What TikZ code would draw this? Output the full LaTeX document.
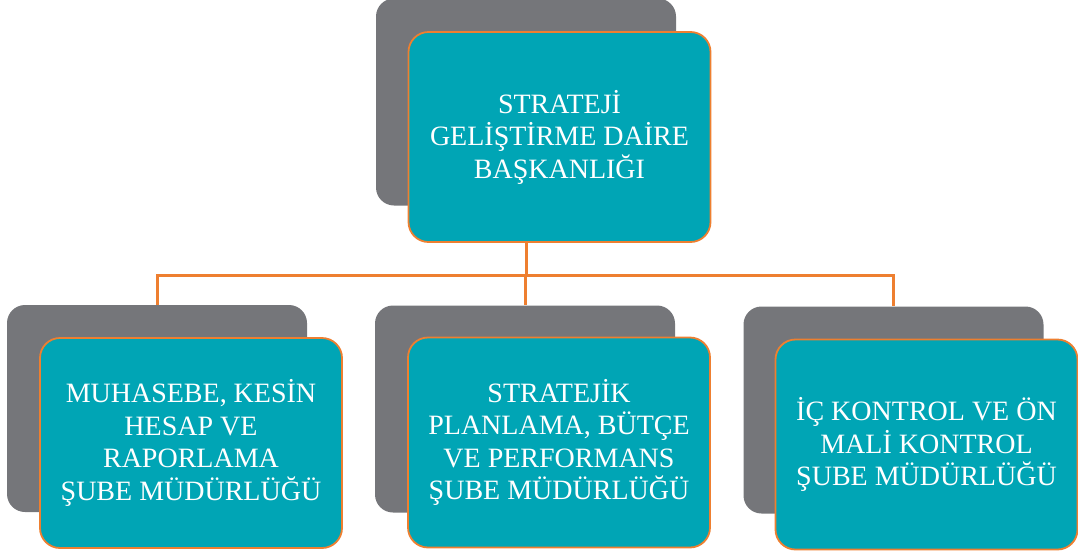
\documentclass[tikz,border=0pt]{standalone}
\usepackage{fontspec}
\setmainfont{Liberation Serif}
\definecolor{tealbox}{HTML}{00A5B5}
\definecolor{shadowgray}{HTML}{75767A}
\definecolor{orangeline}{HTML}{EE7F30}
\tikzset{
  backbox/.style={fill=shadowgray, rounded corners=18pt, minimum width=300pt, minimum height=207pt, inner sep=0pt, anchor=center},
  frontbox/.style={fill=tealbox, draw=orangeline, line width=1.8pt, rounded corners=20pt, minimum width=302pt, minimum height=210pt, inner sep=0pt, anchor=center, text=white, align=center, font=\fontsize{28}{32.5}\selectfont},
  conn/.style={draw=orangeline, line width=3pt}
}
\begin{document}
\begin{tikzpicture}[x=1pt,y=-1pt]
\useasboundingbox (0,0) rectangle (1078,555);
% shadow boxes
\node[backbox] (gT) at (526,102) {};
\node[backbox] (gL) at (157,408.5) {};
\node[backbox] (gM) at (525,409) {};
\node[backbox] (gR) at (893.5,410) {};
% connectors
\coordinate (bus) at (525,275);
\draw[conn] (gT.south) -- (gT |- bus);
\draw[conn] (gL.north) -- (gL |- bus) -- (gR |- bus) -- (gR.north);
\draw[conn] (gM |- bus) -- (gM.north);
% front boxes
\node[frontbox] (tT) at (559.5,137) {STRATEJİ\\GELİŞTİRME DAİRE\\BAŞKANLIĞI};
\node[frontbox] (tL) at (191,443) {MUHASEBE, KESİN\\HESAP VE\\RAPORLAMA\\ŞUBE MÜDÜRLÜĞÜ};
\node[frontbox] (tM) at (559,442.5) {STRATEJİK\\PLANLAMA, BÜTÇE\\VE PERFORMANS\\ŞUBE MÜDÜRLÜĞÜ};
\node[frontbox] (tR) at (926.5,444.5) {İÇ KONTROL VE ÖN\\MALİ KONTROL\\ŞUBE MÜDÜRLÜĞÜ};
\end{tikzpicture}
\end{document}
